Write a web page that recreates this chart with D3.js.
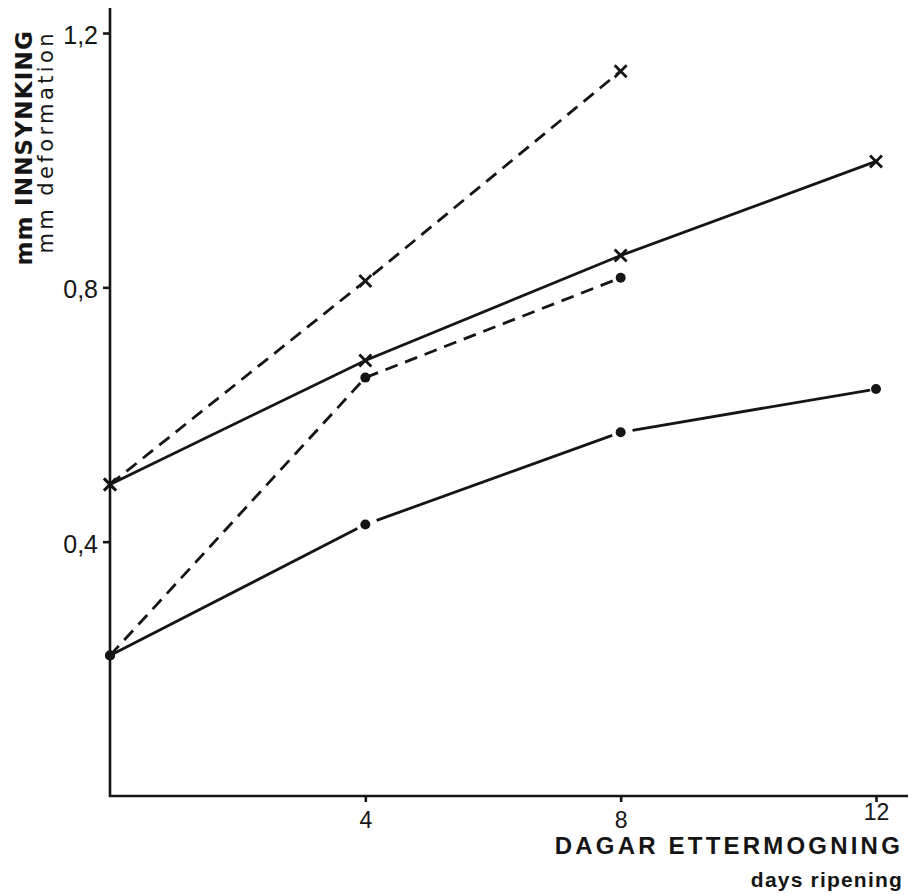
<!DOCTYPE html>
<html>
<head>
<meta charset="utf-8">
<script src="https://cdn.jsdelivr.net/npm/d3@7"></script>
<style>
  body { margin: 0; background: #fff; }
  svg { display: block; }
  text { fill: #151515; }
</style>
</head>
<body>
<svg id="chart" width="912" height="895"></svg>
<script>
// days of ripening
const days = [0, 4, 8, 12];
const yTicks = [0.4, 0.8, 1.2];
const xTicks = [4, 8, 12];

// mm deformation
const crossDashed = [0.49, 0.81, 1.14];
const crossSolid = [0.49, 0.685, 0.85, 0.998];
const dotDashed = [0.221, 0.658, 0.815];
const dotSolid = [0.221, 0.427, 0.572, 0.64];

const series = [
    { values: crossDashed, dashed: true, marker: "cross", gap: 0 },
    { values: crossSolid, dashed: false, marker: "cross", gap: 0 },
    { values: dotDashed, dashed: true, marker: "dot", gap: 0 },
    { values: dotSolid, dashed: false, marker: "dot", gap: 9 }
];

const svg = d3.select("#chart");
const ink = "#151515";
const sans = "'Liberation Sans', Arial, sans-serif";
const wide = "'DejaVu Sans', sans-serif";

const x = d3.scaleLinear().domain([0, 12]).range([110, 876]);
const y = d3.scaleLinear().domain([0, 1.2]).range([796, 33]);

// axes lines
svg.append("line")
    .attr("x1", x(0)).attr("x2", x(0))
    .attr("y1", 8).attr("y2", y(0) + 1)
    .attr("stroke", ink).attr("stroke-width", 2.6);
svg.append("line")
    .attr("x1", x(0) - 1).attr("x2", 908)
    .attr("y1", y(0)).attr("y2", y(0))
    .attr("stroke", ink).attr("stroke-width", 2.6);

const comma = d => d3.format(".1f")(d).replace(".", ",");

const yAxis = svg.append("g")
    .attr("transform", `translate(${x(0)},0)`)
    .call(d3.axisLeft(y).tickValues(yTicks).tickFormat(comma).tickSize(7).tickPadding(5));
yAxis.select(".domain").remove();
yAxis.selectAll("line").attr("stroke", ink).attr("stroke-width", 2.6);
yAxis.selectAll("text").style("font-family", sans).attr("font-size", 25)
    .attr("fill", ink).attr("dy", "0.42em");

const xAxis = svg.append("g")
    .attr("transform", `translate(0,${y(0)})`)
    .call(d3.axisBottom(x).tickValues(xTicks).tickFormat(d3.format("d")).tickSize(6).tickPadding(10));
xAxis.select(".domain").remove();
xAxis.selectAll("line").attr("stroke", ink).attr("stroke-width", 2.6);
xAxis.selectAll("text").style("font-family", sans).attr("font-size", 23).attr("fill", ink)
    .attr("dy", d => d === 12 ? "0.36em" : "0.71em");

// axis titles
svg.append("text")
    .attr("transform", "translate(32,30) rotate(-90)")
    .attr("text-anchor", "end")
    .style("font-family", wide)
    .attr("font-size", 23).attr("font-weight", "bold")
    .attr("letter-spacing", 1.2)
    .text("mm INNSYNKING");
svg.append("text")
    .attr("transform", "translate(53,30) rotate(-90)")
    .attr("text-anchor", "end")
    .style("font-family", wide)
    .attr("font-size", 21)
    .attr("letter-spacing", 3.4)
    .text("mm deformation");
svg.append("text")
    .attr("x", 903).attr("y", 854)
    .attr("text-anchor", "end")
    .style("font-family", sans)
    .attr("font-size", 24).attr("font-weight", "bold")
    .attr("letter-spacing", 3.2)
    .text("DAGAR ETTERMOGNING");
svg.append("text")
    .attr("x", 903).attr("y", 887)
    .attr("text-anchor", "end")
    .style("font-family", sans)
    .attr("font-size", 21).attr("font-weight", "bold")
    .attr("letter-spacing", 1.2)
    .text("days ripening");

const line = d3.line().x(d => x(d[0])).y(d => y(d[1]));

series.forEach(s => {
    const pts = s.values.map((v, i) => [days[i], v]);
    if (s.gap === 0) {
        svg.append("path")
            .datum(pts)
            .attr("d", line)
            .attr("fill", "none")
            .attr("stroke", ink)
            .attr("stroke-width", 2.8)
            .attr("stroke-dasharray", s.dashed ? "13,8" : null);
    } else {
        // solid line broken around interior markers
        for (let i = 0; i < pts.length - 1; i++) {
            const x1 = x(pts[i][0]), y1 = y(pts[i][1]);
            const x2 = x(pts[i + 1][0]), y2 = y(pts[i + 1][1]);
            const len = Math.hypot(x2 - x1, y2 - y1);
            const ux = (x2 - x1) / len, uy = (y2 - y1) / len;
            const g1 = i === 0 ? 0 : s.gap + 3;
            const g2 = i + 1 === pts.length - 1 ? 6 : s.gap;
            svg.append("line")
                .attr("x1", x1 + ux * g1).attr("y1", y1 + uy * g1)
                .attr("x2", x2 - ux * g2).attr("y2", y2 - uy * g2)
                .attr("stroke", ink).attr("stroke-width", 2.8);
        }
    }
    const marks = svg.append("g").selectAll("g")
        .data(pts)
        .join("g")
        .attr("transform", d => `translate(${x(d[0])},${y(d[1])})`);
    if (s.marker === "cross") {
        marks.append("path")
            .attr("d", "M-6,-6L6,6M-6,6L6,-6")
            .attr("stroke", ink).attr("stroke-width", 2.8)
            .attr("fill", "none");
    } else {
        marks.append("circle")
            .attr("r", 5)
            .attr("fill", ink);
    }
});
</script>
</body>
</html>
